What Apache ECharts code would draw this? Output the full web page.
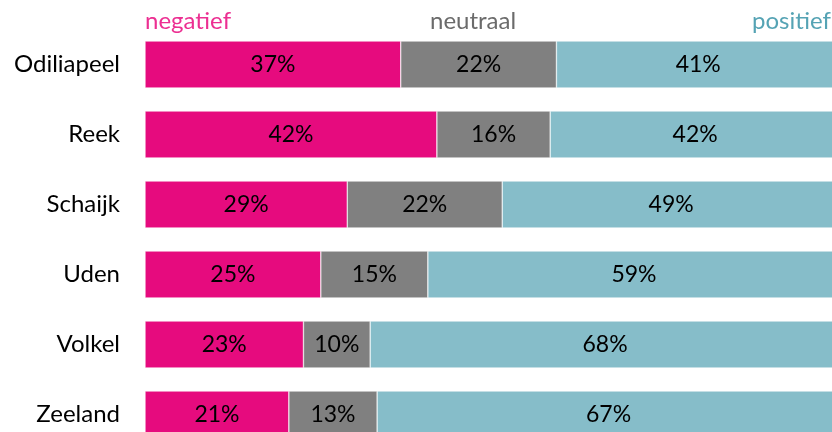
<!DOCTYPE html>
<html>
<head>
<meta charset="utf-8">
<script src="https://cdn.jsdelivr.net/npm/echarts@6/dist/echarts.min.js"></script>
<style>
  html, body { margin: 0; padding: 0; background: #fff; }
  #chart { width: 832px; height: 432px; }
</style>
</head>
<body>
<div id="chart"></div>
<script>
// plaatsen, van boven naar beneden
const places = ["Odiliapeel", "Reek", "Schaijk", "Uden", "Volkel", "Zeeland"];
const negatief = [36.8, 42.0, 29.1, 25.3, 22.8, 20.7];
const neutraal = [22.4, 16.3, 22.3, 15.4, 9.6, 12.7];
const positief = [40.8, 41.7, 48.6, 59.3, 67.6, 66.6];

const font = "Lato";
const myChart = echarts.init(document.getElementById("chart"));

const barLabel = {
  show: true,
  position: "inside",
  color: "#000",
  fontFamily: font,
  fontSize: 23,
  formatter: (p) => Math.round(p.value) + "%",
};

const mkSeries = (name, data, color) => ({
  name: name,
  type: "bar",
  stack: "totaal",
  data: data,
  barWidth: 47,
  itemStyle: { color: color, borderColor: "#fff", borderWidth: 0.5 },
  label: barLabel,
  emphasis: { disabled: true },
});

const option = {
  animation: false,
  // grid loopt iets buiten het canvas, zoals in het origineel
  grid: {
    left: 145, top: 29.5, right: -8, bottom: -17.5,
    containLabel: false, outerBoundsMode: "none",
  },
  xAxis: {
    type: "value",
    min: 0,
    max: 100,
    show: false,
  },
  yAxis: {
    type: "category",
    inverse: true,
    data: places,
    axisLine: { show: false },
    axisTick: { show: false },
    axisLabel: { color: "#000", fontFamily: font, fontSize: 24, margin: 25 },
  },
  graphic: [
    { type: "text", left: 145, top: 9, style: { text: "negatief", fill: "#ec2f92", font: "24px " + font } },
    { type: "text", left: 430, top: 9, style: { text: "neutraal", fill: "#6b6b6b", font: "24px " + font } },
    { type: "text", left: 752, top: 9, style: { text: "positief", fill: "#55a3b4", font: "24px " + font } },
  ],
  series: [
    mkSeries("negatief", negatief, "#e60b7e"),
    mkSeries("neutraal", neutraal, "#808080"),
    mkSeries("positief", positief, "#86bdc9"),
  ],
};

myChart.setOption(option);
</script>
</body>
</html>
